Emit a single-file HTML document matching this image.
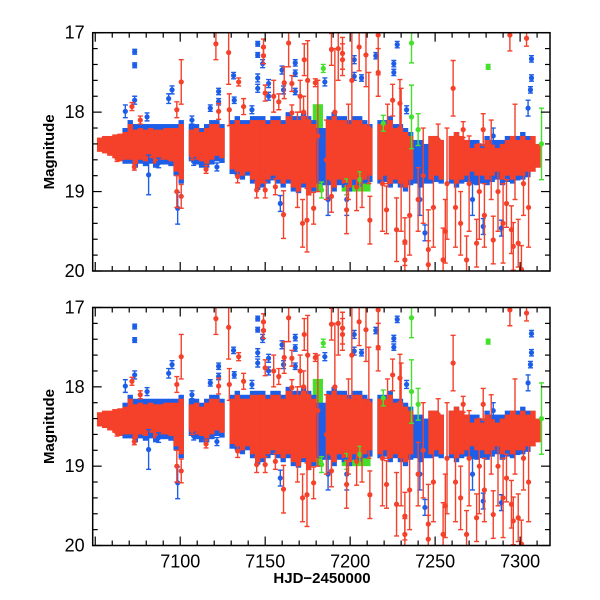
<!DOCTYPE html>
<html><head><meta charset="utf-8"><style>
html,body{margin:0;padding:0;background:#fff;}
svg{display:block;font-family:"Liberation Sans",sans-serif;}
</style></head><body>
<svg id="chart" width="600" height="600" viewBox="0 0 600 600"></svg>
<script>
// ---- data ----
const xTicks=[7100,7150,7200,7250,7300];
const yTicks=[17,18,19,20];
// dense-envelope bins (3-day bins starting at binStart)
const binStart=[7051,7054,7057,7060,7063,7066,7069,7072,7075,7078,7081,7084,7087,7090,7093,7096,7099,7102,7105,7108,7111,7114,7117,7120,7123,7126,7129,7132,7135,7138,7141,7144,7147,7150,7153,7156,7159,7162,7165,7168,7171,7174,7177,7180,7183,7186,7189,7192,7195,7198,7201,7204,7207,7210,7213,7216,7219,7222,7225,7228,7231,7234,7237,7240,7243,7246,7249,7252,7255,7258,7261,7264,7267,7270,7273,7276,7279,7282,7285,7288,7291,7294,7297,7300,7303,7306,7309];
const redLo=[18.32,18.3,18.3,18.28,18.27,18.25,18.15,18.22,18.2,18.22,18.2,18.22,18.22,18.2,18.2,18.2,18.15,null,18.22,18.2,18.25,18.2,18.15,18.15,18.2,null,18.15,18.1,18.15,18.15,18.1,18.1,18.1,18.15,18.1,18.1,18.15,18.05,18.1,18.1,18.05,18.1,18.15,null,null,18.1,18.05,18.1,18.1,18.15,18.1,18.1,18.15,18.2,null,18.15,18.15,18.1,18.2,18.2,18.25,18.3,null,null,null,18.3,18.3,18.35,null,18.3,18.25,18.3,18.35,18.45,18.4,18.45,18.35,18.4,18.45,18.4,18.35,18.3,18.35,18.3,18.35,18.3,18.4];
const redHi=[18.5,18.52,18.55,18.58,18.62,18.6,18.6,18.65,18.6,18.62,18.58,18.65,18.6,18.6,18.62,18.75,18.85,null,18.55,18.6,18.62,18.65,18.6,18.55,18.58,null,18.72,18.75,18.8,18.75,18.85,18.95,18.9,18.85,18.8,18.85,18.9,18.85,18.95,19.0,18.9,19.05,18.95,null,null,18.85,18.95,18.85,18.9,18.95,18.85,18.9,18.85,18.8,null,18.85,18.8,18.9,18.85,18.9,18.95,18.85,null,null,null,18.85,18.8,18.85,null,18.85,18.9,18.85,18.8,18.75,18.8,18.8,18.85,18.8,18.75,18.85,18.8,18.85,18.8,18.8,18.75,18.75,18.7];
const blueLo=[null,null,null,null,null,18.2,18.1,18.15,18.15,18.15,18.15,18.15,18.15,18.15,18.15,18.15,18.1,null,18.15,18.15,18.2,18.15,18.1,18.1,18.15,null,18.1,18.05,18.1,18.1,18.05,18.05,18.05,18.1,18.05,18.05,18.1,18.0,18.05,18.05,18.0,18.05,18.1,18.2,18.2,18.05,18.0,18.05,18.05,18.1,18.05,18.05,18.1,18.15,null,18.1,18.1,18.05,18.15,18.15,18.2,18.25,18.35,18.35,18.4,18.3,18.3,18.35,null,18.3,18.25,18.3,18.35,18.35,18.35,18.4,18.3,18.35,18.35,18.35,18.3,18.3,18.3,18.25,18.3,null,null];
const blueHi=[null,null,null,null,null,18.65,18.65,18.7,18.65,18.68,18.65,18.7,18.66,18.66,18.68,18.8,18.9,null,18.62,18.66,18.7,18.7,18.66,18.62,18.64,null,18.78,18.8,18.85,18.8,18.9,18.98,18.95,18.9,18.86,18.9,18.95,18.9,19.0,19.02,18.95,19.05,19.0,18.9,18.92,18.92,19.0,18.92,18.95,19.0,18.92,18.95,18.9,18.88,null,18.9,18.88,18.95,18.9,18.95,19.0,18.92,18.9,18.95,18.9,18.9,18.88,18.9,null,18.9,18.95,18.9,18.88,18.9,18.92,18.9,18.92,18.88,18.85,18.92,18.88,18.9,18.86,18.85,18.82,null,null];
// green envelope: [tStart,tEnd,magLo,magHi]
const greenBands=[[7178,7184,17.9,19.0],[7195,7212,18.5,19.0]];
// points: [t,mag,err]
const redPts=[[7121,17.14,0.2],[7100.6,17.62,0.28],[7098,19.0,0.2],[7100.6,19.06,0.15],[7073,18.69,0.04],[7062.8,18.58,0.04],[7128.5,17.25,0.4],[7128.9,17.97,0.2],[7134.4,17.62,0.05],[7149,17.18,0.1],[7149,17.29,0.1],[7163.8,17.13,0.3],[7161.2,17.63,0.2],[7165.7,17.64,0.1],[7173,17.34,0.2],[7175,17.6,0.5],[7179.5,17.63,0.05],[7160.8,19.29,0.3],[7172,19.4,0.3],[7174.6,19.36,0.4],[7178.5,19.21,0.2],[7156,18.94,0.1],[7145,18.98,0.1],[7150,18.98,0.1],[7133.8,18.81,0.08],[7115.2,18.72,0.05],[7107,18.55,0.05],[7098,17.97,0.1],[7071.6,17.93,0.05],[7076.5,18.1,0.05],[7137.3,17.93,0.1],[7150,17.76,0.1],[7155,17.8,0.2],[7158,17.87,0.1],[7122.6,17.99,0.1],[7170.6,17.8,0.2],[7172.6,18.0,0.2],[7165.7,18.01,0.1],[7189,17.21,0.2],[7193,17.2,0.4],[7195.5,17.26,0.2],[7195.5,17.34,0.2],[7205.3,17.18,0.3],[7209.3,17.28,0.4],[7216.5,17.03,0.5],[7216.5,17.5,0.3],[7225,17.85,0.2],[7229.3,17.89,0.3],[7232.2,19.63,0.3],[7232.2,19.86,0.2],[7246,19.73,0.5],[7246,19.92,0.3],[7260.6,17.7,0.35],[7266.5,18.22,0.1],[7278.3,18.22,0.2],[7284.2,19.61,0.3],[7294.9,19.48,0.3],[7298.9,19.65,0.3],[7300.8,19.98,0.3],[7294,17.03,0.2],[7303.8,17.07,0.1],[7296,19.69,0.3],[7268.5,19.86,0.3],[7274.4,19.65,0.3],[7254.7,19.86,0.4],[7211.6,19.36,0.3],[7221.4,19.23,0.3],[7227.3,19.48,0.4],[7189,19.06,0.2],[7197.9,19.23,0.3],[7203.8,18.94,0.3],[7292,19.15,0.3],[7307.7,18.64,0.1],[7251.8,18.35,0.2],[7186,18.6,0.5],[7199,18.5,0.6],[7207,18.7,0.5],[7222,18.4,0.5],[7240,19.1,0.4],[7262,19.2,0.5],[7279,19.3,0.4],[7287,19.0,0.5],[7302,18.9,0.4],[7243,18.8,0.6],[7270,18.9,0.6],[7191,18.0,0.8],[7201,17.6,0.7],[7211,18.2,0.7],[7219,18.9,0.6],[7230,18.6,0.9],[7249,19.2,0.5],[7257,18.9,0.7],[7265,19.4,0.4],[7276,19.0,0.6],[7283,18.6,0.5],[7290,19.4,0.5],[7297,18.5,0.6],[7305,19.2,0.5],[7181,18.3,0.7],[7169,18.6,0.6],[7235,19.3,0.5],[7256,19.5,0.4]];
const bluePts=[[7073.2,17.24,0.03],[7073.2,17.41,0.03],[7073.2,17.85,0.05],[7067.7,17.99,0.08],[7080.5,18.06,0.05],[7081.4,18.79,0.25],[7087.3,18.64,0.06],[7093.2,17.83,0.06],[7095.2,17.72,0.05],[7098.5,19.21,0.2],[7117.7,17.95,0.04],[7122.6,17.74,0.04],[7122.6,17.87,0.04],[7106.9,18.1,0.05],[7107.9,18.62,0.05],[7121.6,18.69,0.05],[7131.4,17.54,0.04],[7131.8,17.85,0.04],[7145.6,17.14,0.03],[7145.6,17.28,0.03],[7145.6,17.57,0.05],[7145.6,17.7,0.05],[7148.5,17.39,0.05],[7152,17.64,0.05],[7152,17.8,0.05],[7159.9,17.47,0.05],[7160.8,17.72,0.05],[7167.7,17.38,0.04],[7167.7,17.51,0.04],[7167.7,17.74,0.04],[7142.2,17.97,0.05],[7158.9,19.15,0.1],[7202.4,17.34,0.05],[7202.4,17.55,0.05],[7206.7,17.57,0.04],[7215.1,17.29,0.04],[7227.7,17.15,0.04],[7225.7,17.39,0.04],[7225.7,17.5,0.04],[7185.1,17.62,0.05],[7306.7,17.33,0.04],[7306.7,17.57,0.04],[7306.1,17.72,0.04],[7304.7,17.95,0.1],[7233.2,17.97,0.05],[7244,19.52,0.1],[7278.3,19.44,0.1],[7289,19.46,0.1],[7284.2,18.3,0.1],[7187,19.1,0.2],[7198,19.1,0.2],[7241,19.1,0.2],[7272,19.1,0.2]];
const greenPts=[[7236.1,17.13,0.25],[7281.2,17.43,0.03],[7236.1,18.06,0.4],[7240,18.22,0.2],[7312.6,18.4,0.45],[7184.2,17.45,0.05],[7219.5,18.14,0.1],[7205.7,18.85,0.1],[7198,18.94,0.1],[7183.2,18.98,0.1]];

// ---- layout ----
const svg=document.getElementById('chart');
const NS='http://www.w3.org/2000/svg';
const X0=92.7,X1=550,T0=7048.5,T1=7317.6,BIN=3;
const RED='#f5402a',BLUE='#1d5ee8',GREEN='#44e02c';
function mk(tag,attrs,parent){const e=document.createElementNS(NS,tag);for(const k in attrs)e.setAttribute(k,attrs[k]);(parent||svg).appendChild(e);return e;}
function xs(t){return X0+(t-T0)/(T1-T0)*(X1-X0);}

function panel(top,bottom,idx,showX){
  const g=mk('g',{});
  
  
  const ys=m=>top+(m-17)/3*(bottom-top);
  const clipId='clip'+idx;
  const cp=mk('clipPath',{id:clipId},g);mk('rect',{x:X0,y:top,width:X1-X0,height:bottom-top},cp);
  const data=mk('g',{'clip-path':'url(#'+clipId+')'},g);
  
  
  function bins(lo,hi,col,name){binStart.forEach((t,i)=>{if(lo[i]==null)return;
    const r=mk('rect',{x:xs(t),y:ys(lo[i]),width:xs(t+BIN)-xs(t)+0.3,height:ys(hi[i])-ys(lo[i]),fill:col},data);
    
    });}
  function bands(arr,col,name){arr.forEach(b=>{const r=mk('rect',{x:xs(b[0]),y:ys(b[2]),width:xs(b[1])-xs(b[0]),height:ys(b[3])-ys(b[2]),fill:col},data);
    
    });}
  function pts(arr,col,name){arr.forEach(p=>{const x=xs(p[0]),y=ys(p[1]),y1=ys(p[1]-p[2]),y2=ys(p[1]+p[2]);
    const pg=mk('g',{},data);
    
    
    mk('line',{x1:x,x2:x,y1:y1,y2:y2,stroke:col,'stroke-width':1.4},pg);
    mk('line',{x1:x-2.5,x2:x+2.5,y1:y1,y2:y1,stroke:col,'stroke-width':1.4},pg);
    mk('line',{x1:x-2.5,x2:x+2.5,y1:y2,y2:y2,stroke:col,'stroke-width':1.4},pg);
    mk('circle',{cx:x,cy:y,r:2.6,fill:col},pg);});}
  bands(greenBands,GREEN,'green-band');
  bins(blueLo,blueHi,BLUE,'blue-band');
  bins(redLo,redHi,RED,'red-band');
  pts(greenPts,GREEN,'green-point');
  pts(bluePts,BLUE,'blue-point');
  pts(redPts,RED,'red-point');
  mk('rect',{x:X0,y:top,width:X1-X0,height:bottom-top,fill:'none',stroke:'#000','stroke-width':1.5},g);
  for(let t=7050;t<=7310;t+=10){const x=xs(t),L=(t%50===0)?9:5;
    mk('line',{x1:x,x2:x,y1:bottom,y2:bottom-L,stroke:'#000','stroke-width':1.2},g);
    mk('line',{x1:x,x2:x,y1:top,y2:top+L,stroke:'#000','stroke-width':1.2},g);}
  for(let i=0;i<=15;i++){const m=17+i*0.2,y=ys(m),L=(i%5===0)?9:5;
    mk('line',{x1:X0,x2:X0+L,y1:y,y2:y,stroke:'#000','stroke-width':1.2},g);
    mk('line',{x1:X1,x2:X1-L,y1:y,y2:y,stroke:'#000','stroke-width':1.2},g);}
  yTicks.forEach(v=>{const t=mk('text',{x:X0-8,y:ys(v)+6,'text-anchor':'end','font-size':18},g);t.textContent=v;
    
    });
  if(showX){xTicks.forEach(v=>{const t=mk('text',{x:xs(v),y:bottom+22,'text-anchor':'middle','font-size':18},g);t.textContent=v;
    
    });}
  const yl=mk('text',{x:0,y:0,'text-anchor':'middle','font-size':15,'font-weight':'bold',transform:`translate(54,${(top+bottom)/2}) rotate(-90)`},g);
  yl.textContent='Magnitude';
  
  
}
panel(32.7,271,1,false);
panel(307.5,545.5,2,true);
const xl=mk('text',{x:322,y:583,'text-anchor':'middle','font-size':15,'font-weight':'bold'});
xl.textContent='HJD\u22122450000';


</script>
</body></html>
